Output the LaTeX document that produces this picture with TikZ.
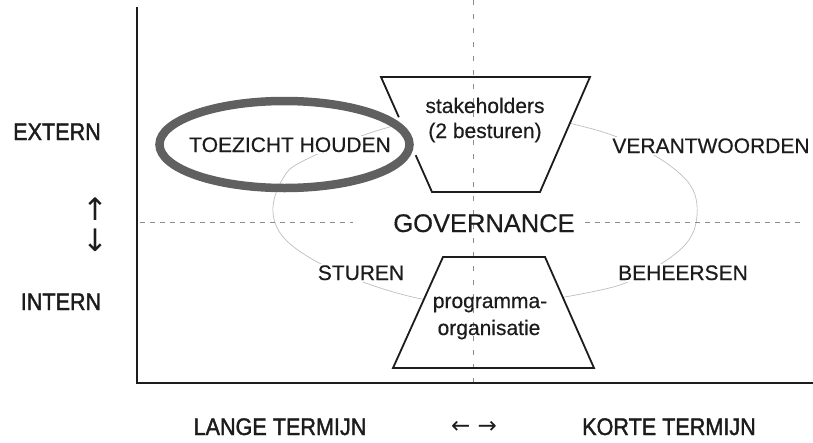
\documentclass[tikz,border=0pt]{standalone}
\usepackage{fontspec}
\setmainfont{Liberation Sans}[FakeBold=0.4]
\newfontfamily\condfont[FakeStretch=0.9,FakeBold=1.6]{Liberation Sans}
\newfontfamily\symfont{DejaVu Sans}
\usetikzlibrary{shapes.geometric,calc}
\definecolor{ink}{RGB}{28,28,28}
\definecolor{ellgray}{RGB}{96,96,96}
\definecolor{dashgray}{RGB}{140,140,140}
\definecolor{loopgray}{RGB}{190,190,190}
\tikzset{
  txt/.style={font=\fontsize{21}{25}\selectfont, text=ink, inner sep=1.5pt, anchor=base},
  bgtxt/.style={txt, fill=white},
  bigtxt/.style={font=\fontsize{25.5}{30}\selectfont, text=ink, inner sep=1.5pt, anchor=base},
  condtxt/.style={font=\condfont\fontsize{24}{28}\selectfont, text=ink, inner sep=0pt, anchor=base},
  symtxt/.style={font=\symfont\fontsize{23}{27}\selectfont, text=ink, inner sep=0pt},
  vsymtxt/.style={font=\symfont\fontsize{31}{35}\selectfont, text=ink, inner sep=0pt},
  trapline/.style={draw=ink, line width=1.8pt, line join=miter},
  axisline/.style={draw=ink, line width=2.2pt},
  dashh/.style={draw=dashgray, line width=0.9pt, dash pattern=on 5pt off 5pt},
  dashv/.style={draw=dashgray, line width=0.8pt, dash pattern=on 5pt off 9pt},
  loopline/.style={draw=loopgray, line width=0.7pt},
  ringstyle/.style={ellipse, draw=ellgray, line width=8.5pt, minimum width=250pt, minimum height=87pt, inner sep=0pt}
}
\begin{document}
\begin{tikzpicture}[x=1pt,y=-1pt]
\useasboundingbox (0,0) rectangle (813,442);
% coordinates
\coordinate (axtop) at (137,7);
\coordinate (origin) at (137,383);
\coordinate (axright) at (813,383);
\coordinate (hd1) at (140,222);
\coordinate (hd2) at (353,222);
\coordinate (hd3) at (585,222);
\coordinate (hd4) at (800,222);
\coordinate (vd1) at (473,0);
\coordinate (vd2) at (473,383);
\coordinate (s1) at (381,77);
\coordinate (s2) at (590,77);
\coordinate (s3) at (540,192);
\coordinate (s4) at (432,192);
\coordinate (p1) at (443,257);
\coordinate (p2) at (545,257);
\coordinate (p3) at (594,368);
\coordinate (p4) at (393,368);
% faint governance loop
\draw[loopline] plot[smooth cycle, tension=0.6] coordinates {(386,128) (485,110) (585,127) (645,150) (688,182) (697,215) (684,246) (640,276) (596,291) (495,306) (417,298) (340,273) (289,243) (273,213) (282,180) (305,160)};
% trapezoid fills
\fill[white] (s1) -- (s2) -- (s3) -- (s4) -- cycle;
\fill[white] (p1) -- (p2) -- (p3) -- (p4) -- cycle;
% dashed guide lines
\draw[dashh] (hd1) -- (hd2);
\draw[dashh] (hd3) -- (hd4);
\draw[dashv] (vd1) -- (vd2);
% trapezoids
\draw[trapline] ($(s1)!0.35!(s4)$) -- (s1) -- (s2) -- (s3) -- (s4) -- ($(s4)!0.32!(s1)$);
\draw[trapline] (p1) -- (p2) -- (p3) -- (p4) -- cycle;
% axes
\draw[axisline] (axtop) -- (origin) -- (axright);
% highlighted ring
\node[ringstyle] (ring) at (284.5,144.5) {};
% texts
\node[bgtxt] (toez) at (290,152) {TOEZICHT HOUDEN};
\node[txt] (stak1) at (485,113) {stakeholders};
\node[txt] (stak2) at (485,138) {(2 besturen)};
\node[bgtxt] (verant) at (711,153) {VERANTWOORDEN};
\node[bigtxt] (gov) at (484,232) {GOVERNANCE};
\node[bgtxt] (sturen) at (361,280) {STUREN};
\node[bgtxt] (beheer) at (683,280) {BEHEERSEN};
\node[txt] (prog1) at (490,308) {programma-};
\node[txt] (prog2) at (489,335) {organisatie};
\node[condtxt] (extern) at (57,140) {EXTERN};
\node[condtxt] (intern) at (61,310) {INTERN};
\node[vsymtxt] (up) at (95,209) {↑};
\node[vsymtxt] (down) at (95,240) {↓};
\node[condtxt] (lange) at (280,435) {LANGE TERMIJN};
\node[symtxt] (lr) at (474,427) {← →};
\node[condtxt] (korte) at (669,435) {KORTE TERMIJN};
\end{tikzpicture}
\end{document}
